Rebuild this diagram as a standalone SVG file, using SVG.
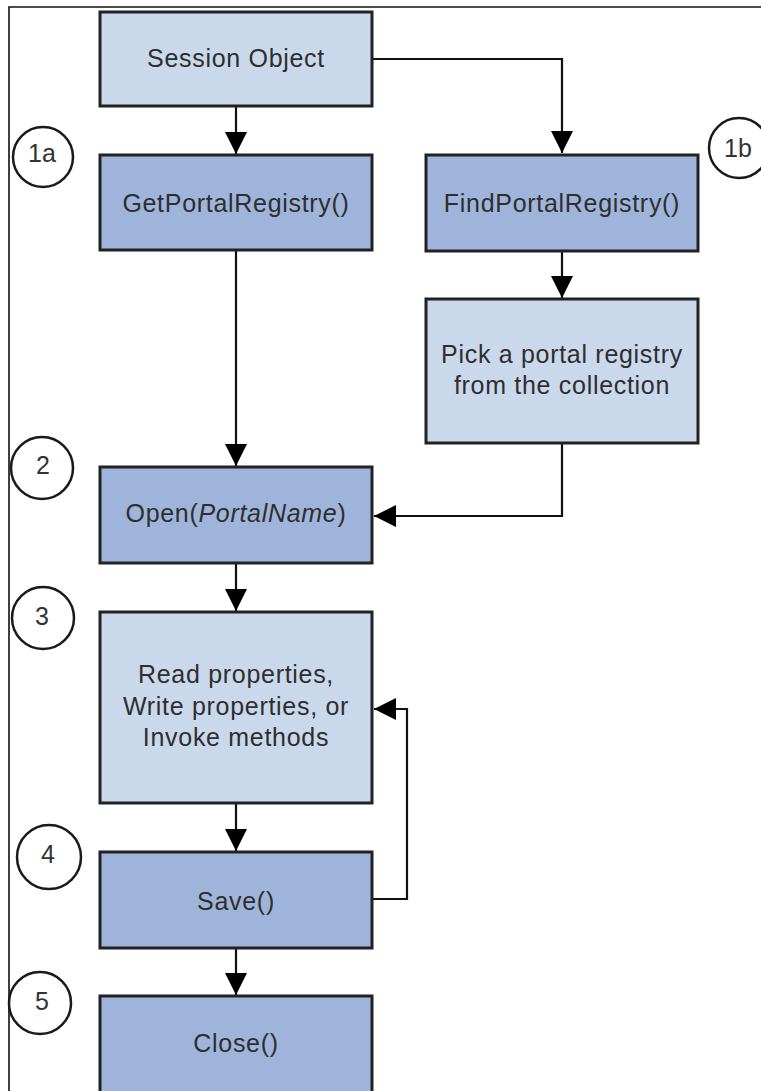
<svg xmlns="http://www.w3.org/2000/svg" width="761" height="1091" viewBox="0 0 761 1091">
<style>
.light{fill:#cad8ec;stroke:#222;stroke-width:3}
.dark{fill:#9fb4db;stroke:#222;stroke-width:3}
.lbl{font-family:"Liberation Sans",Arial,sans-serif;font-size:25px;letter-spacing:0.7px;fill:#2e2e2e;text-anchor:middle}
.num{font-family:"Liberation Sans",Arial,sans-serif;font-size:25px;fill:#333;text-anchor:middle}
.circ{fill:#fff;stroke:#1a1a1a;stroke-width:2.5}
.con{fill:none;stroke:#111;stroke-width:2.2}
</style>
<defs>
<marker id="ah" markerUnits="userSpaceOnUse" markerWidth="22" markerHeight="22" viewBox="0 0 20 20" refX="20" refY="10" orient="auto">
<path d="M0,0 L20,10 L0,20 Z" fill="#000"/>
</marker>
</defs>
<rect width="761" height="1091" fill="#fff"/>
<path d="M9,1091 V7 H761" fill="none" stroke="#111" stroke-width="1.6"/>
<g id="connectors">
<path class="con" d="M236,106 V154" marker-end="url(#ah)"/>
<path class="con" d="M372,59 H562 V153" marker-end="url(#ah)"/>
<path class="con" d="M562,251 V298" marker-end="url(#ah)"/>
<path class="con" d="M236,250 V466" marker-end="url(#ah)"/>
<path class="con" d="M562,443 V516 H374" marker-end="url(#ah)"/>
<path class="con" d="M236,563 V611" marker-end="url(#ah)"/>
<path class="con" d="M236,803 V851" marker-end="url(#ah)"/>
<path class="con" d="M373,899 H407 V709 H374" marker-end="url(#ah)"/>
<path class="con" d="M236,948 V995" marker-end="url(#ah)"/>
</g>
<g id="session"><rect class="light" x="100" y="12" width="272" height="94"/><text class="lbl" x="236" y="67">Session Object</text></g>
<g id="getportal"><rect class="dark" x="100" y="155" width="272" height="95"/><text class="lbl" x="236" y="212">GetPortalRegistry()</text></g>
<g id="findportal"><rect class="dark" x="426" y="155" width="272" height="96"/><text class="lbl" x="562" y="212">FindPortalRegistry()</text></g>
<g id="pick"><rect class="light" x="426" y="299" width="272" height="144"/><text class="lbl" x="562" y="363">Pick a portal registry</text><text class="lbl" x="562" y="394">from the collection</text></g>
<g id="open"><rect class="dark" x="100" y="467" width="272" height="96"/><text class="lbl" x="236" y="522">Open(<tspan font-style="italic">PortalName</tspan>)</text></g>
<g id="readwrite"><rect class="light" x="100" y="612" width="272" height="191"/><text class="lbl" x="236" y="683">Read properties,</text><text class="lbl" x="236" y="715">Write properties, or</text><text class="lbl" x="236" y="746">Invoke methods</text></g>
<g id="save"><rect class="dark" x="100" y="852" width="272" height="96"/><text class="lbl" x="236" y="910">Save()</text></g>
<g id="close"><rect class="dark" x="100" y="996" width="272" height="110"/><text class="lbl" x="236" y="1052">Close()</text></g>
<g id="step1a"><ellipse class="circ" cx="43" cy="157" rx="30" ry="30"/><text class="num" x="42" y="162">1a</text></g>
<g id="step1b"><ellipse class="circ" cx="739" cy="148" rx="30" ry="30"/><text class="num" x="738" y="157">1b</text></g>
<g id="step2"><ellipse class="circ" cx="42" cy="468" rx="31" ry="31"/><text class="num" x="43" y="474">2</text></g>
<g id="step3"><ellipse class="circ" cx="43" cy="618" rx="31" ry="31"/><text class="num" x="42" y="625">3</text></g>
<g id="step4"><ellipse class="circ" cx="49" cy="857" rx="32" ry="32"/><text class="num" x="48" y="863">4</text></g>
<g id="step5"><ellipse class="circ" cx="40" cy="1003" rx="31" ry="31"/><text class="num" x="42" y="1010">5</text></g>
</svg>
